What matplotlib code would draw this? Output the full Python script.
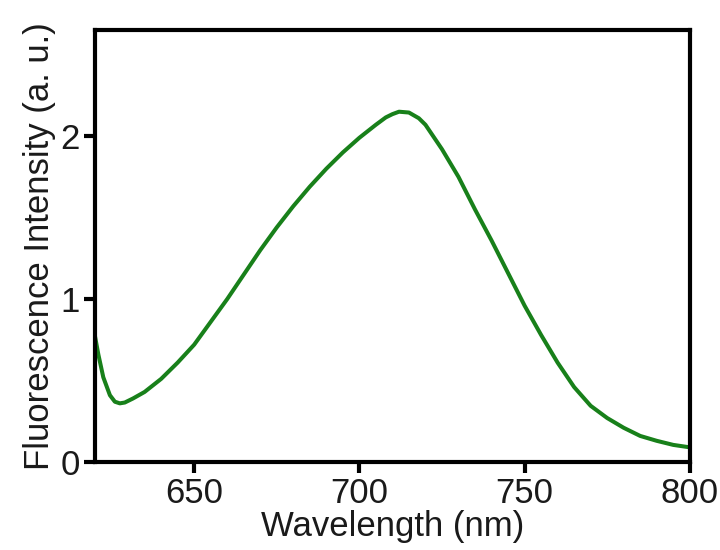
import matplotlib
matplotlib.use('Agg')
from matplotlib import pyplot as plt
import numpy as np

plt.rcParams['font.family'] = ['Liberation Sans', 'DejaVu Sans']

# spectrum
wavelength = [620, 621, 622.5, 624.5, 626, 627.5, 629, 631.5, 635, 640,
              645, 650, 655, 660, 665, 670, 675, 680, 685, 690,
              695, 700, 705, 708, 710, 712, 715, 718, 720, 725, 730,
              735, 740, 745, 750, 755, 760, 765, 770, 775, 780,
              785, 790, 795, 800]
intensity = [0.77, 0.66, 0.52, 0.41, 0.37, 0.36, 0.365, 0.39, 0.43, 0.51,
             0.61, 0.72, 0.86, 1.00, 1.15, 1.30, 1.44, 1.57, 1.69, 1.80,
             1.90, 1.99, 2.07, 2.115, 2.135, 2.15, 2.145, 2.11, 2.07, 1.92, 1.75,
             1.55, 1.36, 1.16, 0.96, 0.78, 0.61, 0.46, 0.345, 0.27, 0.21,
             0.16, 0.13, 0.105, 0.09]
xticks = [650, 700, 750, 800]
yticks = [0, 1, 2]

wavelength = np.array(wavelength)
intensity = np.array(intensity)

fig = plt.figure(figsize=(7.2, 5.5), dpi=100)
ax = fig.add_axes([0.132, 0.16, 0.826, 0.785])

ax.plot(wavelength, intensity, color='#18801a', linewidth=2.9,
        solid_joinstyle='round')

ax.set_xlim(620, 800)
ax.set_ylim(0, 2.65)
ax.set_xticks(xticks)
ax.set_yticks(yticks)

for s in ax.spines.values():
    s.set_linewidth(3)
ax.tick_params(direction='out', length=8, width=3, labelsize=25, pad=3,
               labelcolor='#1a1a1a')

ax.set_xlabel('Wavelength (nm)', fontsize=25, labelpad=0, color='#1a1a1a')
ax.set_ylabel('Fluorescence Intensity (a. u.)', fontsize=25, labelpad=3,
              color='#1a1a1a')

plt.savefig('out.png', dpi=100)
